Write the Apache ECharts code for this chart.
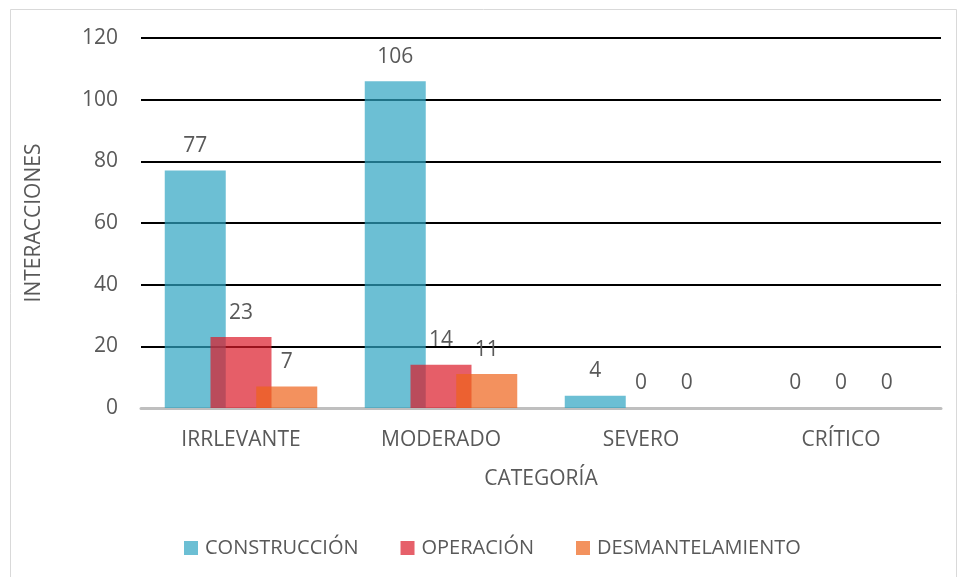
<!DOCTYPE html>
<html>
<head>
<meta charset="utf-8">
<script src="https://cdn.jsdelivr.net/npm/echarts@6/dist/echarts.min.js"></script>
<style>
  html, body { margin: 0; padding: 0; background: #fff; }
  #chart { width: 958px; height: 577px; }
</style>
</head>
<body>
<div id="chart"></div>
<script>
// Impact categories and number of interactions per project phase
const categories = ['IRRLEVANTE', 'MODERADO', 'SEVERO', 'CRÍTICO'];
const construccion = [77, 106, 4, 0];
const operacion = [23, 14, 0, 0];
const desmantelamiento = [7, 11, 0, 0];
const yTicks = { min: 0, max: 120, interval: 20 };

const FONT = '"Open Sans", "Liberation Sans", sans-serif';
const TEXT = '#595959';

// Bars are translucent so overlaps and gridlines show through
function barSeries(name, data, color) {
  return {
    name: name,
    type: 'bar',
    data: data,
    barWidth: 61,
    barGap: '-25%',
    itemStyle: { color: color },
    label: {
      show: true,
      position: 'top',
      distance: 14,
      color: TEXT,
      fontFamily: FONT,
      fontSize: 21
    }
  };
}

const chart = echarts.init(document.getElementById('chart'), null, { renderer: 'canvas' });
chart.setOption({
  backgroundColor: '#ffffff',
  animation: false,
  graphic: [{
    type: 'rect',
    shape: { x: 10.5, y: 9.5, width: 946, height: 580 },
    style: { fill: 'none', stroke: '#D9D9D9', lineWidth: 1 },
    silent: true
  }],
  grid: { left: 141, right: 17, top: 38, bottom: 169 },
  legend: {
    bottom: 19,
    left: 184,
    padding: 0,
    itemWidth: 14,
    itemHeight: 14,
    itemGap: 42,
    icon: 'rect',
    textStyle: { color: TEXT, fontFamily: FONT, fontSize: 20, padding: [0, 0, 0, 2] },
    data: [
      { name: 'CONSTRUCCIÓN', itemStyle: { color: '#6CBFD4' } },
      { name: 'OPERACIÓN', itemStyle: { color: '#E6606A' } },
      { name: 'DESMANTELAMIENTO', itemStyle: { color: '#F3925E' } }
    ]
  },
  xAxis: {
    type: 'category',
    data: categories,
    name: 'CATEGORÍA',
    nameLocation: 'middle',
    nameGap: 61,
    nameTextStyle: { color: TEXT, fontFamily: FONT, fontSize: 21 },
    axisLine: { show: true, lineStyle: { color: '#BFBFBF', width: 3 } },
    axisTick: { show: false },
    axisLabel: { color: TEXT, fontFamily: FONT, fontSize: 21, margin: 22 }
  },
  yAxis: {
    type: 'value',
    min: yTicks.min,
    max: yTicks.max,
    interval: yTicks.interval,
    name: 'INTERACCIONES',
    nameLocation: 'middle',
    nameGap: 96,
    nameTextStyle: { color: TEXT, fontFamily: FONT, fontSize: 21 },
    axisLine: { show: false },
    axisTick: { show: false },
    axisLabel: { color: TEXT, fontFamily: FONT, fontSize: 21, margin: 23 },
    splitLine: { lineStyle: { color: '#000000', width: 2 } }
  },
  series: [
    barSeries('CONSTRUCCIÓN', construccion, 'rgba(45,164,194,0.7)'),
    barSeries('OPERACIÓN', operacion, 'rgba(219,25,40,0.7)'),
    barSeries('DESMANTELAMIENTO', desmantelamiento, 'rgba(238,99,25,0.7)')
  ]
});
</script>
</body>
</html>
